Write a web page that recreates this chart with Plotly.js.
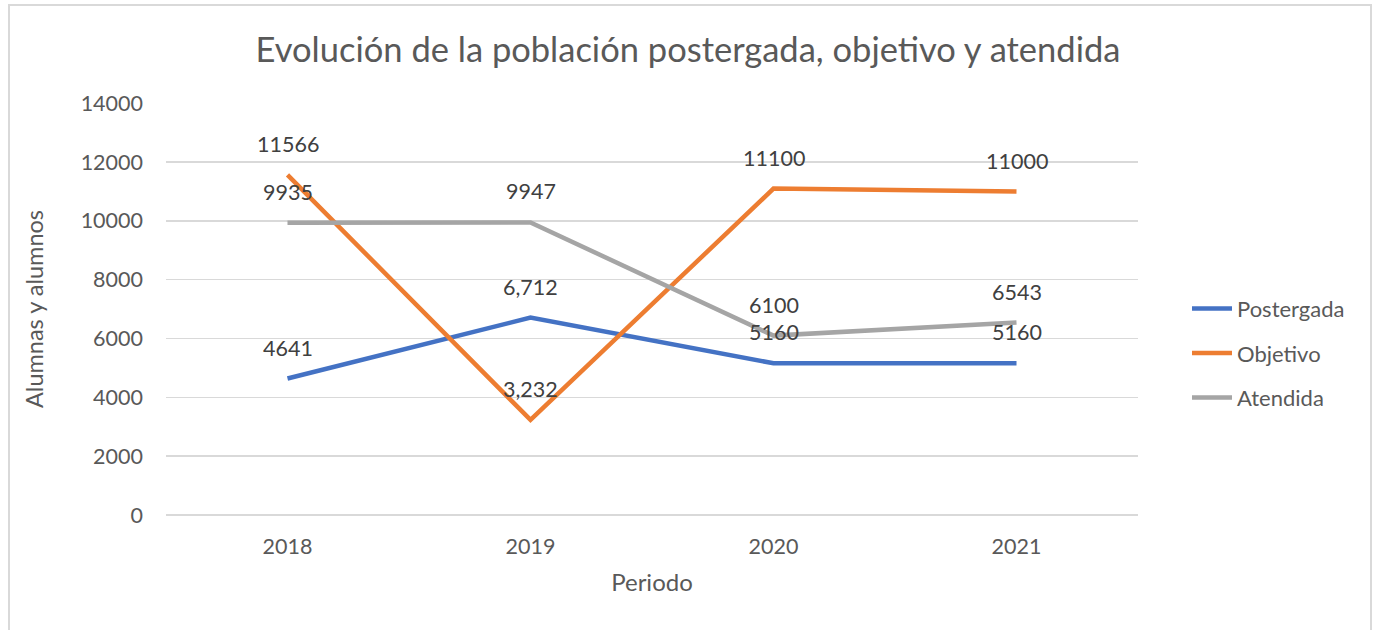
<!DOCTYPE html>
<html><head><meta charset="utf-8">
<script src="https://cdn.plot.ly/plotly-3.0.1.min.js"></script>
<style>
html,body{margin:0;padding:0;background:#fff;}
#frame{position:absolute;left:8px;top:4px;width:1364px;height:640px;border:2px solid #d9d9d9;box-sizing:border-box;}
#chart{position:absolute;left:0;top:0;width:1376px;height:630px;}
</style></head>
<body>
<div id="frame"></div>
<div id="chart"></div>
<script>
const periods = ["2018", "2019", "2020", "2021"];
const postergada = [4641, 6712, 5160, 5160];
const objetivo = [11566, 3232, 11100, 11000];
const atendida = [9935, 9947, 6100, 6543];
const postergadaLabels = ["4641", "6,712", "5160", "5160"];
const objetivoLabels = ["11566", "3,232", "11100", "11000"];
const atendidaLabels = ["9935", "9947", "6100", "6543"];
const seriesNames = ["Postergada", "Objetivo", "Atendida"];
const colors = ["#4472C4", "#ED7D31", "#A5A5A5"];

const FONT = "Lato, 'Open Sans', sans-serif";
const series = [postergada, objetivo, atendida];
const labels = [postergadaLabels, objetivoLabels, atendidaLabels];

const traces = series.map((ys, i) => ({
  type: "scatter", mode: "lines", x: periods, y: ys, name: seriesNames[i],
  legendgroup: "g" + i,
  line: {color: colors[i], width: 4.5},
  hoverinfo: "x+y"
}));

const annotations = [];
series.forEach((ys, i) => {
  ys.forEach((v, j) => {
    annotations.push({x: j, y: v, xref: "x", yref: "y", text: labels[i][j],
      showarrow: false, yshift: 31, font: {family: FONT, size: 21.5, color: "#404040"}});
  });
});

const layout = {
  width: 1376, height: 630,
  margin: {l: 166, r: 238, t: 103, b: 115},
  paper_bgcolor: "rgba(0,0,0,0)", plot_bgcolor: "rgba(0,0,0,0)",
  font: {family: FONT, color: "#595959"},
  title: {text: "Evolución de la población postergada, objetivo y atendida",
    font: {family: FONT, size: 34.5, color: "#595959"}, x: 0.5, xanchor: "center", y: 0.92, yanchor: "middle"},
  xaxis: {type: "category", range: [-0.5, 3.5], showgrid: false, zeroline: false, showline: false,
    ticks: "", tickfont: {size: 21.5, color: "#595959"}, ticklabelstandoff: 16,
    title: {text: "Periodo", font: {size: 24, color: "#595959"}, standoff: 16}, fixedrange: true},
  yaxis: {range: [0, 14010], tickvals: [0, 2000, 4000, 6000, 8000, 10000, 12000, 14000], tickformat: "d",
    showgrid: true, gridcolor: "#d9d9d9", gridwidth: 1.5,
    zeroline: true, zerolinecolor: "#d9d9d9", zerolinewidth: 1.5, showline: false, ticks: "",
    tickfont: {size: 21.5, color: "#595959"}, ticklabelstandoff: 22,
    title: {text: "Alumnas y alumnos", font: {size: 23.5, color: "#595959"}, standoff: 30}, fixedrange: true},
  showlegend: true,
  legend: {x: (1187 - 166) / 972, xanchor: "left", y: 0.393, yanchor: "middle", traceorder: "grouped",
    tracegroupgap: 13, font: {size: 22, color: "#595959"}, bgcolor: "rgba(0,0,0,0)", itemwidth: 40},
  annotations: annotations
};

Plotly.newPlot("chart", traces, layout, {displayModeBar: false, staticPlot: true});
</script>
</body></html>
